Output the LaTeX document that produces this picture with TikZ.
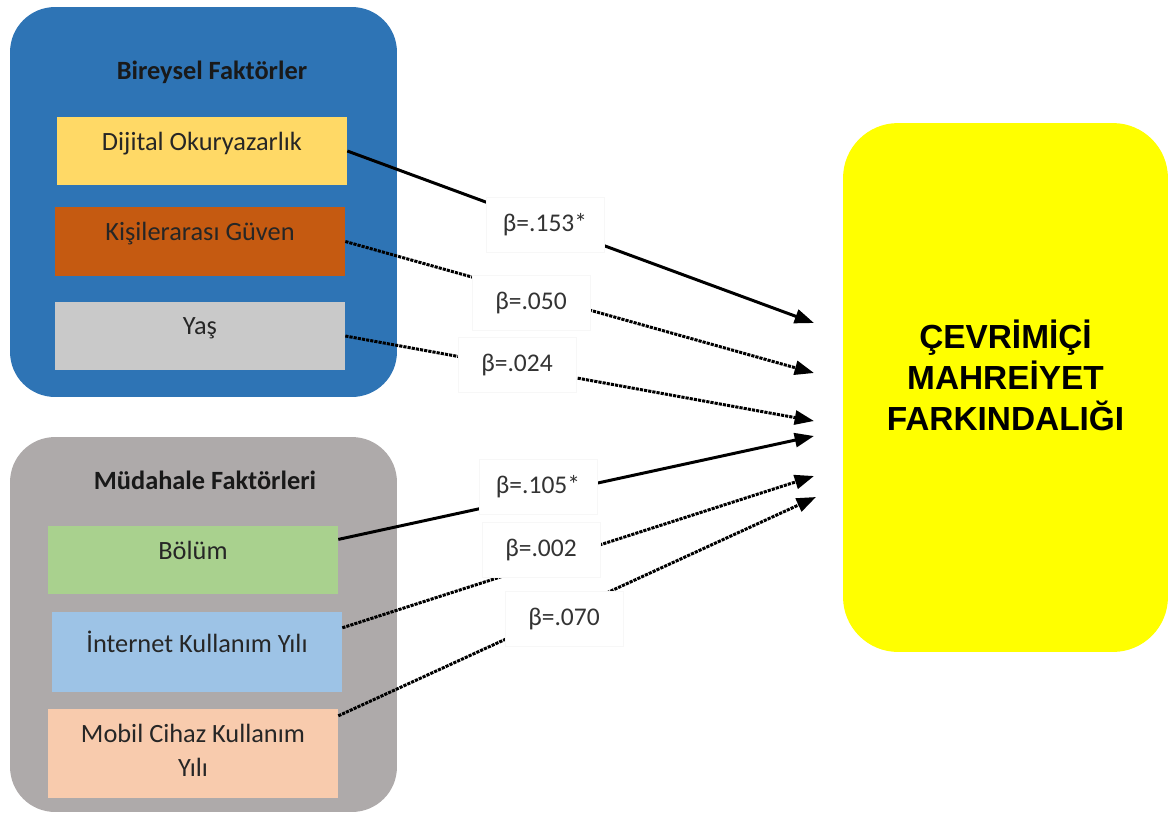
\documentclass[tikz,border=0pt]{standalone}
\usepackage{fontspec}
\setmainfont{Carlito}
\newfontfamily\arialfont{Liberation Sans}
\usepackage{tikz}
\usetikzlibrary{arrows.meta,calc,positioning}
\definecolor{bireyblue}{HTML}{2E74B5}
\definecolor{mudgray}{HTML}{AEAAAA}
\definecolor{dijyellow}{HTML}{FFD966}
\definecolor{kisorange}{HTML}{C55A11}
\definecolor{yasgray}{HTML}{C9C9C9}
\definecolor{bolgreen}{HTML}{A9D18E}
\definecolor{intblue}{HTML}{9DC3E6}
\definecolor{mobpeach}{HTML}{F8CBAD}
\definecolor{mahyellow}{RGB}{255,255,0}

\begin{document}
\begin{tikzpicture}[x=0.02cm,y=-0.02cm,
  group/.style={rectangle,rounded corners=0.9cm,inner sep=0pt,minimum width=7.74cm},
  grouptitle/.style={font=\bfseries\fontsize{15}{18}\selectfont,text=black!90},
  factor/.style={rectangle,inner sep=0pt,minimum width=5.8cm,minimum height=1.36cm,text depth=0.4cm,text=black!85,font=\fontsize{15}{19}\selectfont},
  coef/.style={rectangle,fill=white,draw=black!3,inner sep=0pt,minimum width=2.36cm,minimum height=1.1cm,text=black!80,font=\fontsize{14.5}{17}\selectfont},
  sig/.style={line width=1.7pt,-{Triangle[length=11pt,width=8pt]}},
  nonsig/.style={sig,dash pattern=on 1.8pt off 0.6pt}]
\useasboundingbox (0,0) rectangle (1171,816);

% groups
\node[group,fill=bireyblue,minimum height=7.8cm] (bireysel) at (203.5,202) {};
\node[group,fill=mudgray,minimum height=7.5cm] (mudahale) at (203.5,624.5) {};
\node[rectangle,rounded corners=1.1cm,fill=mahyellow,minimum width=6.5cm,minimum height=10.58cm,
  align=center,text depth=0.5cm,font=\arialfont\bfseries\fontsize{19}{23.5}\selectfont] (mahremiyet) at (1005.5,387.5)
  {ÇEVRİMİÇİ\\MAHREİYET\\FARKINDALIĞI};

\node[grouptitle] (bireyseltitle) at (212,72) {Bireysel Faktörler};
\node[grouptitle] (mudahaletitle) at (205,480) {Müdahale Faktörleri};

% factors
\node[factor,fill=dijyellow] (dijital) at (202,151) {Dijital Okuryazarlık};
\node[factor,fill=kisorange,minimum height=1.38cm] (kisiler) at (200,241.5) {Kişilerarası Güven};
\node[factor,fill=yasgray] (yas) at (200,336) {Yaş};
\node[factor,fill=bolgreen] (bolum) at (193,560) {Bölüm};
\node[factor,fill=intblue,minimum height=1.6cm] (internet) at (197,652) {İnternet Kullanım Yılı};
\node[factor,fill=mobpeach,minimum height=1.78cm,align=center,text depth=0.12cm] (mobil) at (193,753.5) {Mobil Cihaz Kullanım\\Yılı};

% arrow ends
\coordinate (t1) at (814,323);
\coordinate (t2) at (814,373);
\coordinate (t3) at (814,421);
\coordinate (t4) at (814,436);
\coordinate (t5) at (814,476);
\coordinate (t6) at (816,497);

\draw[sig] (dijital.east) -- (t1);
\draw[nonsig] (kisiler.east) -- (t2);
\draw[nonsig] (yas.east) -- (t3);
\draw[sig] ($(bolum.north east)!0.2!(bolum.south east)$) -- (t4);
\draw[nonsig] ($(internet.north east)!0.2!(internet.south east)$) -- (t5);
\draw[nonsig] ($(mobil.north east)!0.08!(mobil.south east)$) -- (t6);

% coefficients
\node[coef] (b153) at (545,225) {β=.153*};
\node[coef] (b050) at (531,303) {β=.050};
\node[coef] (b024) at (517,365) {β=.024};
\node[coef] (b105) at (538,487) {β=.105*};
\node[coef] (b002) at (541,550) {β=.002};
\node[coef] (b070) at (564,619) {β=.070};
\end{tikzpicture}
\end{document}
